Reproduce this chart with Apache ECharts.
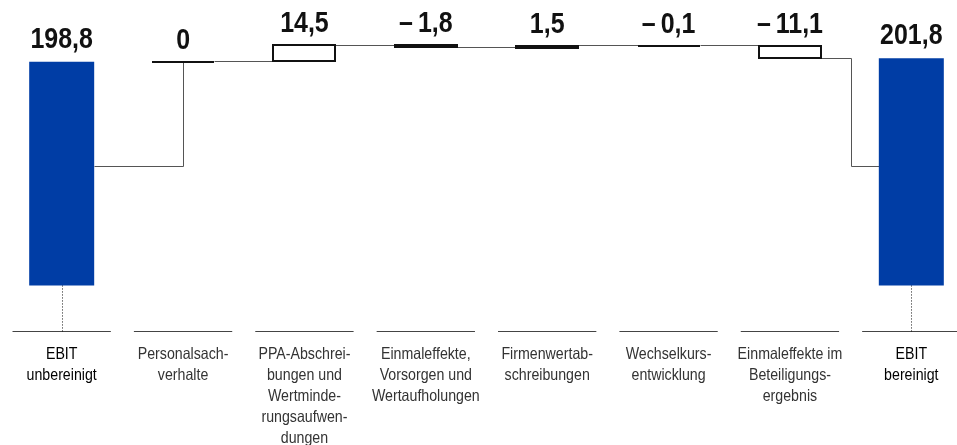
<!DOCTYPE html>
<html>
<head>
<meta charset="utf-8">
<script src="https://cdn.jsdelivr.net/npm/echarts@6/dist/echarts.min.js"></script>
<style>
  html, body { margin: 0; padding: 0; background: #fff; }
  #chart { width: 957px; height: 445px; }
</style>
</head>
<body>
<div id="chart"></div>
<script>
// EBIT bridge: from reported EBIT to adjusted EBIT (values in Mio. EUR)
const categories = [
  'EBIT\nunbereinigt',
  'Personalsach-\nverhalte',
  'PPA-Abschrei-\nbungen und\nWertminde-\nrungsaufwen-\ndungen',
  'Einmaleffekte,\nVorsorgen und\nWertaufholungen',
  'Firmenwertab-\nschreibungen',
  'Wechselkurs-\nentwicklung',
  'Einmaleffekte im\nBeteiligungs-\nergebnis',
  'EBIT\nbereinigt'
];
const totals  = [198.8, null, null, null, null, null, null, 201.8];
const changes = [null, 0, 14.5, -1.8, 1.5, -0.1, -11.1, null];

// level at which the connectors meet the (shortened) total bars
const linkLevel = 106;

const Y_MIN = -40.9;
const Y_MAX = 235.8;
const BAR_W = 65;
const BOX_W = 62;
const FONT = "'Liberation Sans', Arial, sans-serif";
const SQUEEZE = 0.86;      // horizontal condensing of all texts
const BLUE = '#003da5';

// floating steps: [categoryIndex, startLevel, endLevel, change]
const steps = [];
let running = totals[0];
changes.forEach((d, i) => {
  if (d === null) return;
  const start = running;
  running = Math.round((running + d) * 10) / 10;
  steps.push([i, start, running, d]);
});

function fmt(v) {
  if (v === 0) return '0';
  const s = Math.abs(v).toFixed(1).replace('.', ',');
  return (v < 0 ? '\u2013\u2009' : '') + s;
}

const crisp = y => Math.round(y - 0.5) + 0.5;

// bold value label, centred horizontally, vertically centred on y
function valueText(x, y, str) {
  return {
    type: 'text',
    x: x,
    y: y,
    scaleX: SQUEEZE,
    style: {
      text: str,
      fill: '#111',
      fontSize: 29,
      fontWeight: 'bold',
      fontFamily: FONT,
      align: 'center',
      verticalAlign: 'middle'
    }
  };
}

function renderStep(params, api) {
  const i = api.value(0), a = api.value(1), b = api.value(2), d = api.value(3);
  const pa = api.coord([i, a]);
  const pb = api.coord([i, b]);
  const top = Math.min(pa[1], pb[1]);
  const h = Math.abs(pa[1] - pb[1]);
  return {
    type: 'group',
    children: [
      {
        type: 'rect',
        shape: { x: Math.round(pa[0] - BOX_W / 2), y: Math.round(top), width: BOX_W, height: Math.round(h) },
        style: { fill: '#fff', stroke: '#111', lineWidth: 2 }
      },
      valueText(pa[0], top - 21, fmt(d))
    ]
  };
}

function renderTotalLabel(params, api) {
  const i = api.value(0), v = api.value(1);
  const p = api.coord([i, v]);
  return valueText(p[0], p[1] - 22, fmt(v));
}

function renderConnectors(params, api) {
  const band = api.size([1, 0])[0];
  const xy = (i, v, dx) => {
    const p = api.coord([i, v]);
    return [Math.round(p[0] + (dx || 0)), crisp(p[1])];
  };
  const last = categories.length - 1;
  const lines = [];
  // lead-in from the opening total to the first step
  lines.push([xy(0, linkLevel, BAR_W / 2), xy(steps[0][0], linkLevel), xy(steps[0][0], totals[0])]);
  // between consecutive steps
  for (let k = 0; k < steps.length - 1; k++) {
    const [i, , end] = steps[k];
    lines.push([xy(i, end, BOX_W / 2), xy(steps[k + 1][0], end, -BOX_W / 2)]);
  }
  // lead-out into the closing total
  const [li, , lend] = steps[steps.length - 1];
  lines.push([
    xy(li, lend, BOX_W / 2),
    xy(li, lend, band / 2),
    xy(li, linkLevel, band / 2),
    xy(last, linkLevel, -BAR_W / 2)
  ]);
  return {
    type: 'group',
    children: lines.map(pts => ({
      type: 'polyline',
      shape: { points: pts.map(p => [p[0] + 0.5, p[1]]) },
      style: { stroke: '#555', lineWidth: 1, fill: null }
    }))
  };
}

// category underline, category name and the dotted drop below total bars
function renderBase(params, api) {
  const i = api.value(0);
  const band = api.size([1, 0])[0];
  const c = api.coord([i, Y_MIN]);
  const y = crisp(c[1]);
  const isTotal = totals[i] !== null;
  const children = [
    {
      type: 'line',
      shape: { x1: c[0] - band * 0.405, y1: y, x2: c[0] + band * 0.405, y2: y },
      style: { stroke: '#444', lineWidth: 1 }
    },
    {
      type: 'text',
      x: c[0],
      y: y + 12,
      scaleX: SQUEEZE,
      style: {
        text: categories[i],
        fill: isTotal ? '#000' : '#333',
        fontSize: 16.5,
        lineHeight: 21,
        fontFamily: FONT,
        align: 'center',
        verticalAlign: 'top'
      }
    }
  ];
  if (isTotal) {
    const t = api.coord([i, 0]);
    const x = Math.round(c[0]) + 0.5;
    children.push({
      type: 'line',
      shape: { x1: x, y1: t[1], x2: x, y2: y },
      style: { stroke: '#111', lineWidth: 1, lineDash: [1, 2] }
    });
  }
  return { type: 'group', children };
}

const chart = echarts.init(document.getElementById('chart'), null, { renderer: 'canvas' });
chart.setOption({
  animation: false,
  backgroundColor: '#fff',
  grid: { left: 1, top: 20, width: 971, bottom: 113.5, containLabel: false, outerBoundsMode: 'none' },
  xAxis: {
    type: 'category',
    data: categories,
    axisLine: { show: false },
    axisTick: { show: false },
    splitLine: { show: false },
    axisLabel: { show: false }
  },
  yAxis: {
    type: 'value',
    min: Y_MIN,
    max: Y_MAX,
    show: false,
    splitLine: { show: false }
  },
  series: [
    {
      type: 'custom',
      name: 'base',
      data: categories.map((c, i) => [i]),
      renderItem: renderBase,
      clip: false,
      z: 1,
      silent: true
    },
    {
      type: 'custom',
      name: 'connectors',
      data: [[0]],
      renderItem: renderConnectors,
      z: 2,
      silent: true
    },
    {
      type: 'bar',
      name: 'EBIT',
      data: totals.map(v => (v === null ? '-' : v)),
      barWidth: BAR_W,
      itemStyle: { color: BLUE },
      z: 3
    },
    {
      type: 'custom',
      name: 'totalLabels',
      data: totals.map((v, i) => [i, v]).filter(d => d[1] !== null),
      renderItem: renderTotalLabel,
      z: 4
    },
    {
      type: 'custom',
      name: 'steps',
      data: steps,
      renderItem: renderStep,
      z: 4
    }
  ]
});
</script>
</body>
</html>
